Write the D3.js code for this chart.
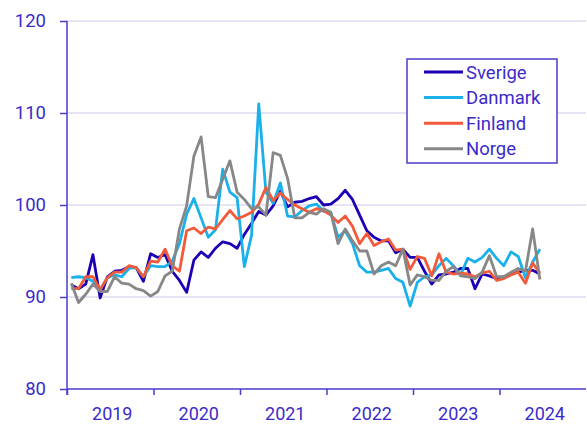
<!DOCTYPE html>
<html>
<head>
<meta charset="utf-8">
<script src="https://d3js.org/d3.v7.min.js"></script>
<style>
  body { margin: 0; background: #fff; }
  svg text { font-family: Roboto, "Noto Sans", sans-serif; fill: #3b2acb; }
</style>
</head>
<body>
<div id="chart"></div>
<script>
// monthly index, Jan 2019 - Jun 2024
var years = [2019, 2020, 2021, 2022, 2023, 2024];
var yTicks = [80, 90, 100, 110, 120];
var countries = ["Sverige", "Danmark", "Finland", "Norge"];
var colors = ["#1c00b5", "#1ab0ea", "#f25a3a", "#878787"];

var sverige = [91.3, 90.9, 91.4, 94.6, 89.9, 92.2, 92.8, 92.9, 93.3, 93.2,
  91.7, 94.7, 94.3, 94.6, 92.8, 91.8, 90.5, 94.0, 94.9, 94.3,
  95.3, 96.0, 95.8, 95.3, 96.8, 98.0, 99.3, 98.9, 99.9, 101.5,
  99.8, 100.3, 100.4, 100.7, 100.9, 100.0, 100.1, 100.7, 101.6, 100.6,
  98.9, 97.2, 96.5, 96.1, 96.1, 94.8, 95.2, 94.3, 94.3, 92.8,
  91.4, 92.4, 92.5, 92.7, 93.1, 93.1, 90.9, 92.5, 92.3, 92.0,
  92.2, 92.5, 92.7, 92.9, 92.9, 92.5];
var danmark = [92.1, 92.2, 92.1, 91.7, 90.8, 92.1, 92.4, 92.2, 93.1, 93.2,
  92.2, 93.4, 93.3, 93.3, 93.9, 95.8, 99.0, 100.7, 98.6, 96.5,
  97.3, 103.9, 101.4, 100.8, 93.3, 96.7, 111.0, 101.4, 100.2, 102.4,
  98.8, 98.7, 99.4, 99.9, 100.1, 99.3, 99.2, 96.5, 97.2, 95.8,
  93.4, 92.7, 92.7, 92.9, 93.1, 92.0, 91.6, 89.0, 91.6, 92.2,
  92.4, 93.4, 94.2, 93.4, 92.4, 94.2, 93.8, 94.3, 95.2, 94.2,
  93.4, 94.9, 94.4, 92.1, 93.8, 95.2];
var finland = [90.9, 90.9, 92.2, 92.2, 90.8, 92.1, 92.7, 92.7, 93.4, 93.2,
  92.2, 93.9, 93.8, 95.2, 93.4, 92.8, 97.2, 97.5, 96.9, 97.6,
  97.4, 98.4, 99.4, 98.5, 98.8, 99.2, 100.1, 101.9, 100.5, 101.3,
  100.6, 100.0, 99.6, 99.2, 99.6, 99.4, 98.9, 98.1, 98.8, 97.7,
  95.8, 96.9, 95.6, 96.0, 96.3, 95.1, 95.2, 93.0, 94.4, 94.2,
  92.3, 94.7, 92.7, 92.5, 92.6, 92.5, 92.2, 92.6, 92.8, 91.8,
  92.0, 92.4, 92.7, 91.5, 93.7, 92.6];
var norge = [91.5, 89.4, 90.3, 91.4, 90.6, 90.6, 92.2, 91.5, 91.4, 90.9,
  90.7, 90.1, 90.6, 92.3, 92.8, 97.4, 99.9, 105.3, 107.4, 100.9,
  100.8, 102.8, 104.8, 101.4, 100.6, 99.6, 99.8, 98.9, 105.7, 105.4,
  102.9, 98.6, 98.6, 99.2, 99.0, 99.6, 99.2, 95.8, 97.4, 96.1,
  95.0, 95.0, 92.5, 93.4, 93.8, 93.4, 95.2, 91.3, 92.4, 92.2,
  91.8, 91.8, 92.8, 93.3, 92.3, 92.2, 92.0, 92.7, 94.5, 92.2,
  92.2, 92.7, 93.1, 92.8, 97.4, 91.9];

var series = [sverige, danmark, finland, norge];

var margin = {top: 21, right: 1, bottom: 36, left: 67},
    width = 587 - margin.left - margin.right,
    height = 425 - margin.top - margin.bottom;
var axisColor = "#4a3dcc";

var svg = d3.select("#chart")
  .append("svg")
    .attr("width", 587)
    .attr("height", 425)
  .append("g")
    .attr("transform", "translate(" + margin.left + "," + margin.top + ")");

// x: fractional years, y: index
var x = d3.scaleLinear()
  .domain([2019, 2025])
  .range([0, width]);
var y = d3.scaleLinear()
  .domain([80, 120])
  .range([height, 0]);

// gridlines
svg.selectAll(".grid")
  .data(yTicks.slice(1))
  .enter()
  .append("line")
    .attr("x1", 0)
    .attr("x2", width)
    .attr("y1", function(d) { return y(d); })
    .attr("y2", function(d) { return y(d); })
    .style("stroke", "#dcdaf0")
    .style("stroke-width", 1.5);

// y axis
var yAxis = svg.append("g")
  .call(d3.axisLeft(y).tickValues(yTicks).tickSize(7).tickPadding(14));
yAxis.select(".domain").remove();
yAxis.selectAll("line").style("stroke", axisColor).style("stroke-width", 1.5);
yAxis.selectAll("text")
  .style("font-size", "18.5px")
  .style("fill", "#3b2acb");
yAxis.append("line")
  .attr("x1", 0).attr("x2", 0)
  .attr("y1", y(120)).attr("y2", height + 6)
  .style("stroke", axisColor)
  .style("stroke-width", 1.5);

// x axis
var xAxis = svg.append("g")
  .attr("transform", "translate(0," + height + ")")
  .call(d3.axisBottom(x).tickValues(years).tickSize(6).tickFormat(""));
xAxis.select(".domain").remove();
xAxis.selectAll("line").style("stroke", axisColor).style("stroke-width", 1.5);
xAxis.append("line")
  .attr("x1", 0).attr("x2", width)
  .attr("y1", 0).attr("y2", 0)
  .style("stroke", axisColor)
  .style("stroke-width", 1.5);

svg.selectAll(".year")
  .data(years)
  .enter()
  .append("text")
    .attr("x", function(d) { return x(d + 0.5) + 2; })
    .attr("y", height + 31)
    .style("text-anchor", "middle")
    .style("font-size", "18px")
    .text(function(d) { return d; });

// lines
var line = d3.line()
  .x(function(d, i) { return x(2019 + (i + 0.6) / 12); })
  .y(function(d) { return y(d); });

series.forEach(function(s, k) {
  svg.append("path")
    .datum(s)
    .attr("d", line)
    .style("fill", "none")
    .style("stroke", colors[k])
    .style("stroke-width", 2.8)
    .style("stroke-linejoin", "round");
});

// legend
var legend = svg.append("g")
  .attr("transform", "translate(" + (407 - margin.left) + "," + (59 - margin.top) + ")");
legend.append("rect")
  .attr("width", 150)
  .attr("height", 104)
  .style("fill", "white")
  .style("stroke", axisColor)
  .style("stroke-width", 1.5);

var items = legend.selectAll(".item")
  .data(countries)
  .enter()
  .append("g")
    .attr("transform", function(d, i) { return "translate(0," + (13 + i * 25.6) + ")"; });
items.append("line")
  .attr("x1", 17).attr("x2", 56)
  .attr("y1", 0).attr("y2", 0)
  .style("stroke", function(d, i) { return colors[i]; })
  .style("stroke-width", 3);
items.append("text")
  .attr("x", 59)
  .attr("y", 6.5)
  .style("font-size", "18.5px")
  .text(function(d) { return d; });
</script>
</body>
</html>
